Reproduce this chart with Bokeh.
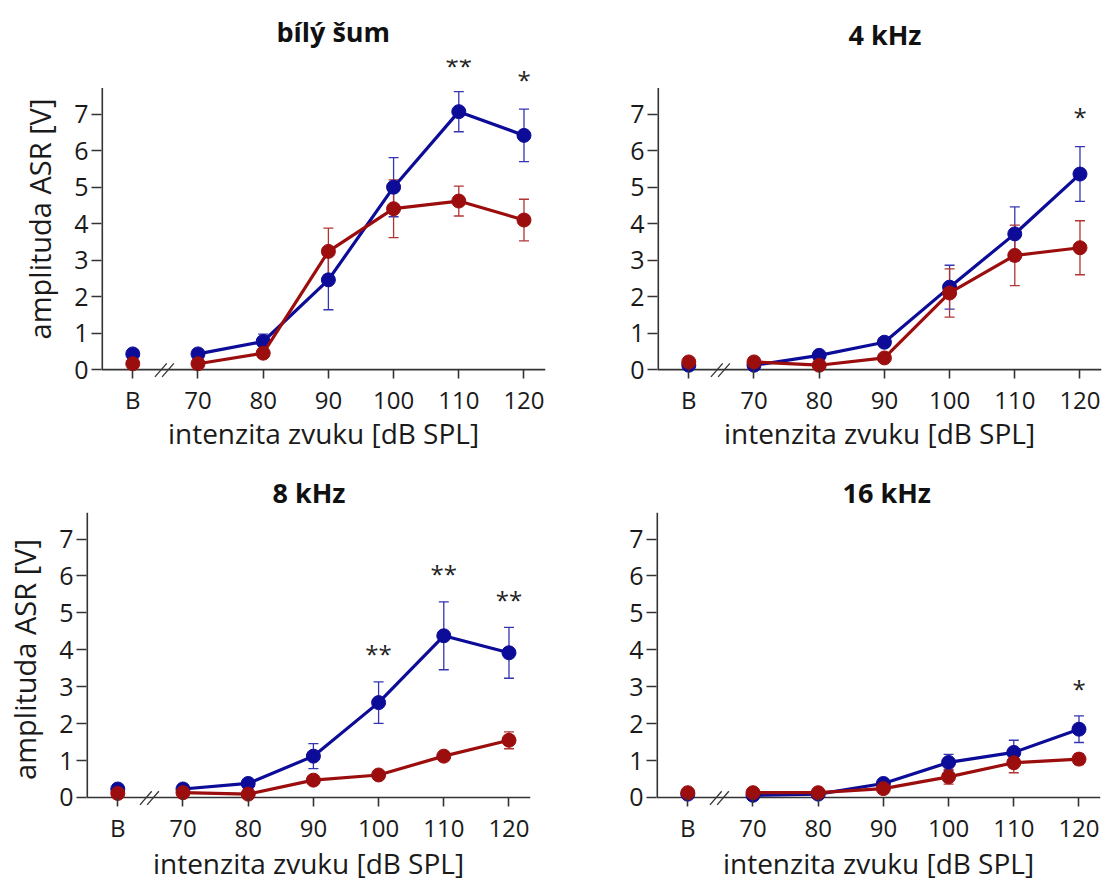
from bokeh.plotting import figure
from bokeh.models import Range1d, FixedTicker, Whisker, TeeHead, ColumnDataSource, Label
from bokeh.layouts import column, row
from bokeh.embed import file_html
from bokeh.resources import INLINE

# ---------------- data ----------------
tick_labels = ["B", "70", "80", "90", "100", "110", "120"]
intensity = [70, 80, 90, 100, 110, 120]          # dB SPL
titles = ["bílý šum", "4 kHz", "8 kHz", "16 kHz"]

# first value = baseline (B), then 70..120 dB
wn_blue = [0.43, 0.43, 0.77, 2.46, 5.00, 7.07, 6.42]
wn_blue_err = [0.0, 0.05, 0.20, 0.82, 0.81, 0.55, 0.72]
wn_red = [0.16, 0.16, 0.45, 3.24, 4.41, 4.62, 4.10]
wn_red_err = [0.0, 0.04, 0.05, 0.64, 0.79, 0.41, 0.57]

k4_blue = [0.12, 0.12, 0.39, 0.75, 2.26, 3.72, 5.36]
k4_blue_err = [0.0, 0.03, 0.06, 0.10, 0.60, 0.74, 0.75]
k4_red = [0.21, 0.21, 0.12, 0.32, 2.10, 3.13, 3.34]
k4_red_err = [0.0, 0.03, 0.03, 0.06, 0.66, 0.83, 0.74]

k8_blue = [0.23, 0.23, 0.38, 1.12, 2.57, 4.38, 3.92]
k8_blue_err = [0.0, 0.03, 0.06, 0.34, 0.56, 0.92, 0.69]
k8_red = [0.11, 0.13, 0.09, 0.47, 0.61, 1.12, 1.55]
k8_red_err = [0.0, 0.03, 0.03, 0.12, 0.08, 0.12, 0.23]

k16_blue = [0.09, 0.06, 0.09, 0.38, 0.95, 1.22, 1.85]
k16_blue_err = [0.0, 0.02, 0.02, 0.05, 0.22, 0.33, 0.36]
k16_red = [0.13, 0.13, 0.13, 0.24, 0.56, 0.94, 1.04]
k16_red_err = [0.0, 0.02, 0.02, 0.05, 0.20, 0.27, 0.15]

# significance marks (x in dB, y in V)
wn_star_x = [110, 120]
wn_star_y = [8.33, 7.96]
wn_star_txt = ["**", "*"]
k4_star_x = [120]
k4_star_y = [6.94]
k4_star_txt = ["*"]
k8_star_x = [100, 110, 120]
k8_star_y = [3.89, 6.06, 5.36]
k8_star_txt = ["**", "**", "**"]
k16_star_x = [120]
k16_star_y = [2.95]
k16_star_txt = ["*"]

y_label = "amplituda ASR [V]"
x_label = "intenzita zvuku [dB SPL]"
y_ticks = [0, 1, 2, 3, 4, 5, 6, 7]
y_axis_top = 7.72

# ---------------- style ----------------
FONT = "Open Sans"
BLUE = "#0c0c98"
RED = "#9c0e0e"
BLUE_ERR = "#3535b0"
RED_ERR = "#b03434"
AXIS = "#333333"
X0, X1 = 55.2, 123.3
Y_BELOW = -0.244

baseline_x = intensity[0] - 10
x_all = [baseline_x] + intensity


def panel(title, blue, blue_err, red, red_err, sx, sy, stxt,
          width, height, bl, br, bt, bb, show_ylabel, y_top,
          title_standoff, title_offset, xlabel_standoff):
    p = figure(width=width, height=height,
               x_range=Range1d(X0, X1), y_range=Range1d(Y_BELOW, y_top),
               output_backend="svg", toolbar_location=None,
               min_border_left=bl, min_border_right=br,
               min_border_top=bt, min_border_bottom=bb)
    p.outline_line_color = None
    p.grid.visible = False
    p.background_fill_color = "white"
    p.border_fill_color = "white"

    p.title.text = title
    p.title.text_font = FONT
    p.title.text_font_size = "27px"
    p.title.text_font_style = "bold"
    p.title.text_color = "#111111"
    p.title.align = "left"
    p.title.offset = title_offset
    p.title.standoff = title_standoff

    for ax in (p.xaxis[0], p.yaxis[0]):
        ax.axis_line_color = None
        ax.major_tick_line_color = AXIS
        ax.major_tick_line_width = 1.6
        ax.minor_tick_line_color = None
        ax.major_label_text_font = FONT
        ax.major_label_text_color = "#1a1a1a"
        ax.axis_label_text_font = FONT
        ax.axis_label_text_font_style = "normal"
        ax.axis_label_text_color = "#1a1a1a"

    xa = p.xaxis[0]
    xa.ticker = FixedTicker(ticks=x_all)
    xa.major_label_overrides = {x: t for x, t in zip(x_all, tick_labels)}
    xa.major_tick_in = 9
    xa.major_tick_out = 0
    xa.major_label_standoff = 4
    xa.major_label_text_font_size = "24px"
    xa.axis_label = x_label
    xa.axis_label_text_font_size = "28px"
    xa.axis_label_standoff = xlabel_standoff

    ya = p.yaxis[0]
    ya.ticker = FixedTicker(ticks=y_ticks)
    ya.major_tick_in = 0
    ya.major_tick_out = 10
    ya.major_label_standoff = 3
    ya.major_label_text_font_size = "25px"
    ya.major_label_orientation = "horizontal"
    if show_ylabel:
        ya.axis_label = y_label
        ya.axis_label_text_font_size = "29px"
        ya.axis_label_standoff = 12

    # axis lines drawn from the data ranges (x axis at 0, y axis up to 7.72)
    p.segment(x0=[X0], y0=[0], x1=[X1], y1=[0], line_color=AXIS, line_width=1.6)
    p.segment(x0=[X0], y0=[0], x1=[X0], y1=[y_axis_top], line_color=AXIS, line_width=3.2)

    # axis break marks
    for xa0, xa1 in ((63.4, 65.2), (64.5, 66.3)):
        p.segment(x0=[xa0], y0=[-0.2], x1=[xa1], y1=[0.17], line_color=AXIS, line_width=1.3)

    # error bars
    for vals, errs, col in ((blue, blue_err, BLUE_ERR), (red, red_err, RED_ERR)):
        src = ColumnDataSource(dict(x=x_all,
                                    lo=[v - e for v, e in zip(vals, errs)],
                                    hi=[v + e for v, e in zip(vals, errs)]))
        w = Whisker(base="x", lower="lo", upper="hi", source=src,
                    line_color=col, line_width=1.3, level="underlay",
                    upper_head=TeeHead(size=10, line_color=col, line_width=1.3),
                    lower_head=TeeHead(size=10, line_color=col, line_width=1.3))
        p.add_layout(w)

    # series: line only through 70..120, baseline point separate
    for vals, col in ((blue, BLUE), (red, RED)):
        p.line(intensity, vals[1:], line_color=col, line_width=3.2)
        p.scatter(x_all, vals, marker="circle", size=14,
                  fill_color=col, line_color=col)

    # significance stars
    for x, y, t in zip(sx, sy, stxt):
        p.add_layout(Label(x=x, y=y, text=t, text_font=FONT, text_font_size="24px",
                           text_align="center", text_baseline="middle",
                           text_color="#222222", y_offset=0))
    return p


p1 = panel(titles[0], wn_blue, wn_blue_err, wn_red, wn_red_err,
           wn_star_x, wn_star_y, wn_star_txt,
           556, 461, 101, 11, 55, 83, True, 8.5, 20, 175, -5)
p2 = panel(titles[1], k4_blue, k4_blue_err, k4_red, k4_red_err,
           k4_star_x, k4_star_y, k4_star_txt,
           556, 461, 101, 11, 55, 83, False, 8.5, 13, 191, -5)
p3 = panel(titles[2], k8_blue, k8_blue_err, k8_red, k8_red_err,
           k8_star_x, k8_star_y, k8_star_txt,
           556, 424, 86, 26, 51, 79, True, y_axis_top, 4, 186, -3)
p4 = panel(titles[3], k16_blue, k16_blue_err, k16_red, k16_red_err,
           k16_star_x, k16_star_y, k16_star_txt,
           556, 424, 100, 12, 51, 79, False, y_axis_top, 4, 186, -3)

layout = column(row(p1, p2, spacing=0), row(p3, p4, spacing=0), spacing=0)

html = file_html(layout, INLINE)
open("out.html", "w").write(html)
